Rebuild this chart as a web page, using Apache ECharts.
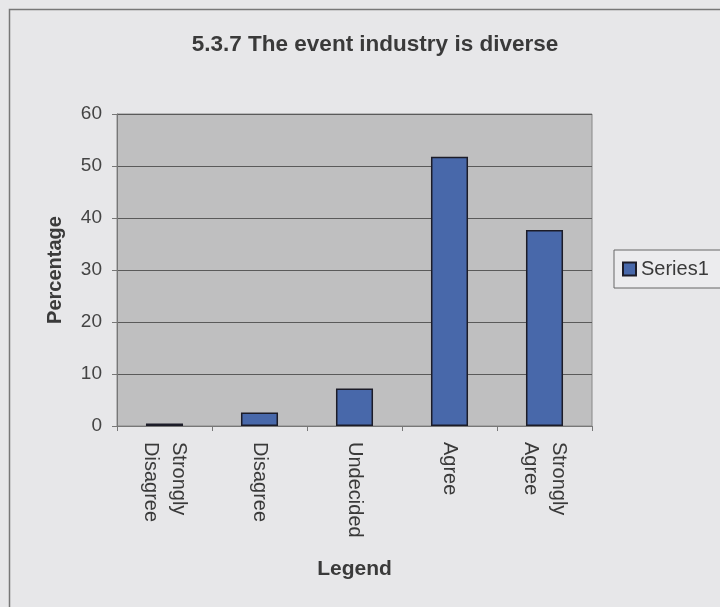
<!DOCTYPE html>
<html>
<head>
<meta charset="utf-8">
<script src="https://cdn.jsdelivr.net/npm/echarts@6/dist/echarts.min.js"></script>
<style>
html,body{margin:0;padding:0;background:#e7e7e9;}
#chart{width:720px;height:607px;}
</style>
</head>
<body>
<div id="chart"></div>
<script>
const categories = ["Strongly\nDisagree", "Disagree", "Undecided", "Agree", "Strongly\nAgree"];
const series1 = [0.5, 2.6, 7.2, 51.8, 37.7];
const yTicks = [0, 10, 20, 30, 40, 50, 60];

const chart = echarts.init(document.getElementById('chart'));
const font = 'Liberation Sans, Arial, sans-serif';
chart.setOption({
  backgroundColor: '#e7e7e9',
  animation: false,
  title: {
    text: '5.3.7 The event industry is diverse',
    left: 370, top: 28, textAlign: 'center',
    textStyle: {fontFamily: font, fontSize: 22.5, fontWeight: 'bold', color: '#3a3a3a'}
  },
  graphic: [{
    type: 'rect', shape: {x: 9.5, y: 9.5, width: 720, height: 620},
    style: {fill: null, stroke: '#777', lineWidth: 1.5}, silent: true
  }],
  legend: {
    data: ['Series1'], left: 614, top: 250, orient: 'vertical',
    padding: [9, 30, 9, 8],
    backgroundColor: '#ececee', borderColor: '#666', borderWidth: 1,
    itemWidth: 13, itemHeight: 13, itemGap: 6,
    icon: 'rect',
    textStyle: {fontFamily: font, fontSize: 20, color: '#3a3a3a'}
  },
  grid: {left: 117, right: 128, top: 114, bottom: 181, show: true, backgroundColor: '#bfbfc0', borderColor: '#888', borderWidth: 1},
  xAxis: {
    type: 'category', data: categories,
    name: 'Legend', nameLocation: 'middle', nameGap: 133,
    nameTextStyle: {fontFamily: font, fontSize: 21, fontWeight: 'bold', color: '#3a3a3a'},
    axisLine: {lineStyle: {color: '#777', width: 1}},
    axisTick: {show: true, length: 5, lineStyle: {color: '#777'}},
    axisLabel: {rotate: -90, fontFamily: font, fontSize: 20, color: '#3a3a3a', margin: 16, lineHeight: 28, interval: 0}
  },
  yAxis: {
    type: 'value', min: 0, max: 60, interval: 10,
    name: 'Percentage', nameLocation: 'middle', nameGap: 52, nameRotate: 90,
    nameTextStyle: {fontFamily: font, fontSize: 20, fontWeight: 'bold', color: '#3a3a3a'},
    axisLine: {show: true, lineStyle: {color: '#777'}},
    axisTick: {show: true, length: 5, lineStyle: {color: '#777'}},
    axisLabel: {fontFamily: font, fontSize: 19, color: '#444', margin: 15,
      formatter: v => yTicks.includes(v) ? String(v) : ''},
    splitLine: {show: true, lineStyle: {color: '#5a5a5a', width: 1}}
  },
  series: [{
    name: 'Series1', type: 'bar', data: series1, barWidth: '39%',
    itemStyle: {color: '#4868aa', borderColor: '#1c1c28', borderWidth: 1.5}
  }]
});
</script>
</body>
</html>
